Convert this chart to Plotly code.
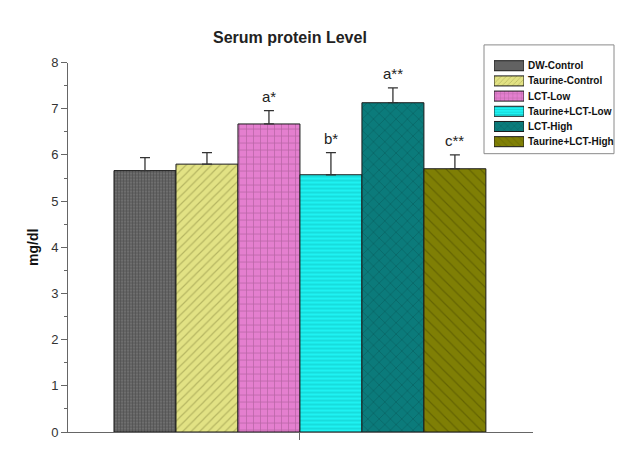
import plotly.graph_objects as go

# Serum protein by treatment group (mg/dl), mean with upper SD
groups = ["DW-Control", "Taurine-Control", "LCT-Low", "Taurine+LCT-Low", "LCT-High", "Taurine+LCT-High"]
means = [5.66, 5.80, 6.67, 5.57, 7.13, 5.70]
sd_upper = [0.28, 0.25, 0.29, 0.48, 0.32, 0.30]
sig_labels = ["", "", "a*", "b*", "a**", "c**"]

fill_colors = ["#6e6e6e", "#e2e284", "#e47fcf", "#1ef2f2", "#0b7b7b", "#7f7f05"]
line_colors = ["#2a2a2a", "#8a8a40", "#8a4a7a", "#0aa8a8", "#064848", "#4a4a00"]
shapes = ["+", "/", "+", "-", "x", "\\"]
pattern_sizes = [3, 6, 7, 4, 8, 8]
pattern_solidity = [0.35, 0.2, 0.2, 0.3, 0.15, 0.15]

FONT = "Liberation Sans, Arial, sans-serif"

W, H = 640, 450
ML, MR, MT, MB = 68, 25, 40, 10
PW, PH = W - ML - MR, H - MT - MB


def px_x(p):
    return (p - ML) / PW


def px_y(p):
    return (H - MB - p) / PH


def pattern(i, size_scale=1.0):
    return dict(shape=shapes[i], fgcolor=line_colors[i], bgcolor=fill_colors[i],
                size=max(2, pattern_sizes[i] * size_scale), solidity=pattern_solidity[i])


fig = go.Figure()
positions = list(range(1, len(groups) + 1))
for i, name in enumerate(groups):
    fig.add_trace(go.Bar(
        x=[positions[i]], y=[means[i]], name=name, width=1.0,
        xaxis="x", yaxis="y", showlegend=False,
        marker=dict(color=fill_colors[i], line=dict(color="#1a1a1a", width=1), pattern=pattern(i)),
        error_y=dict(type="data", symmetric=False, array=[sd_upper[i]], arrayminus=[0],
                     color="#333333", thickness=1.3, width=5),
    ))
    if sig_labels[i]:
        fig.add_annotation(x=positions[i], y=means[i] + sd_upper[i], text=sig_labels[i],
                           xref="x", yref="y", showarrow=False, yanchor="bottom", yshift=4,
                           font=dict(family=FONT, size=15, color="#222222"))

# Key: one swatch per group on its own small axis pair
for i, name in enumerate(groups):
    fig.add_trace(go.Bar(
        x=[1], y=[i], orientation="h", width=0.66, xaxis="x2", yaxis="y2", showlegend=False,
        hoverinfo="skip",
        marker=dict(color=fill_colors[i], line=dict(color="#1a1a1a", width=1),
                    pattern=pattern(i, 0.6)),
    ))
    fig.add_annotation(x=1, y=i, xref="x2", yref="y2", text="<b>%s</b>" % name,
                       showarrow=False, xanchor="left", xshift=2,
                       font=dict(family=FONT, size=10, color="#111111"))

fig.add_shape(type="rect", xref="paper", yref="paper", layer="below",
              x0=px_x(484), x1=px_x(614), y0=px_y(156), y1=px_y(45),
              line=dict(color="#8a8a8a", width=1), fillcolor="white")

center = (positions[0] + positions[-1]) / 2

fig.update_layout(
    width=W, height=H,
    margin=dict(l=ML, r=MR, t=MT, b=MB),
    paper_bgcolor="white", plot_bgcolor="rgba(0,0,0,0)",
    barmode="overlay",
    showlegend=False,
    title=dict(text="<b>Serum protein Level</b>", x=0.453, xref="container", xanchor="center",
               y=1 - 37 / 450, yref="container", yanchor="middle",
               font=dict(family=FONT, size=16, color="#222222")),
    font=dict(family=FONT, color="#333333"),
    xaxis=dict(domain=[0, px_x(533)], range=[-0.242, 7.26], showgrid=False, zeroline=False,
               showline=True, linecolor="#666666", linewidth=1,
               tickvals=[center], ticktext=[""], ticks="outside", ticklen=7,
               tickcolor="#666666"),
    yaxis=dict(domain=[0, px_y(63)], range=[0, 8], showgrid=False, zeroline=False,
               showline=True, linecolor="#666666", linewidth=1,
               dtick=1, ticks="outside", ticklen=6, tickcolor="#666666",
               tickfont=dict(family=FONT, size=13, color="#333333"),
               minor=dict(dtick=0.5, ticks="outside", ticklen=3, tickcolor="#666666"),
               title=dict(text="<b>mg/dl</b>", standoff=9,
                          font=dict(family=FONT, size=14, color="#111111"))),
    xaxis2=dict(domain=[px_x(494), px_x(524)], range=[0, 1], anchor="y2",
                visible=False, fixedrange=True),
    yaxis2=dict(domain=[px_y(151.5), px_y(58.5)], range=[len(groups) - 0.5, -0.5], anchor="x2",
                visible=False, fixedrange=True),
)

fig.write_html("out.html")
